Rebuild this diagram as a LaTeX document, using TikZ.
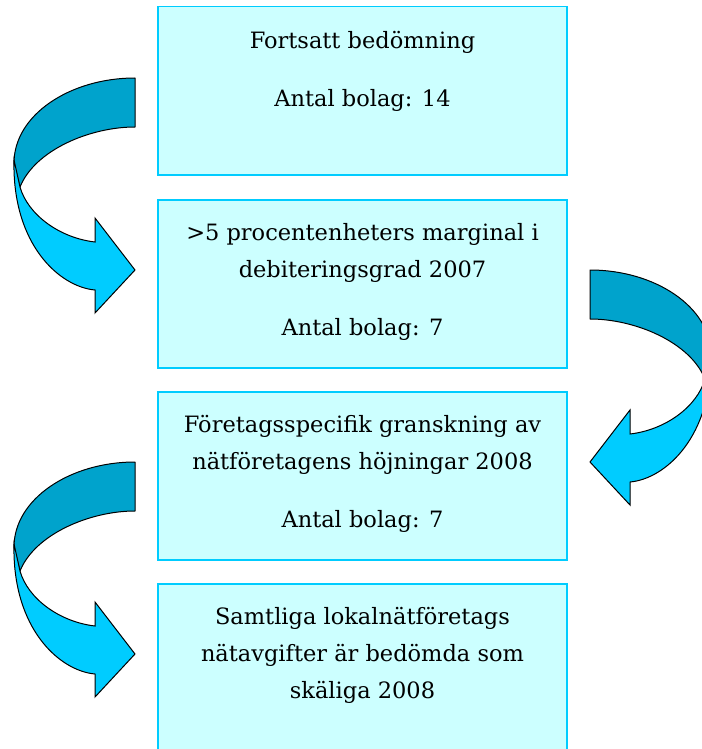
\documentclass[tikz,border=0pt]{standalone}
\usepackage{fontspec}
\setmainfont{DejaVu Serif}
\usepackage{tikz}
\usetikzlibrary{positioning}

\definecolor{stagefill}{HTML}{CCFFFF}
\definecolor{stageline}{HTML}{00CCFF}
\definecolor{bandback}{HTML}{00A3CC}
\definecolor{bandfront}{HTML}{00CCFF}

\tikzset{
  stage/.style={draw=stageline, fill=stagefill, line width=1.5pt,
    minimum width=409pt, minimum height=168pt, anchor=north, inner sep=0pt},
  stagetext/.style={align=center, anchor=north, inner sep=0pt,
    font=\fontsize{22.5}{37}\selectfont},
  backband/.style={draw=black, line width=1pt, fill=bandback, line join=round},
  frontband/.style={draw=black, line width=1pt, fill=bandfront, line join=miter},
  turnarrow/.pic={
    \draw[backband] (135,78) .. controls (70,78) and (14,115) .. (14,163)
      -- (20,187) .. controls (35,150) and (90,127) .. (135,127) -- cycle;
    \draw[frontband] (14,160) .. controls (12,245) and (60,287) .. (95,290)
      -- (95,313) -- (135,270) -- (95,218) -- (95,242)
      .. controls (60,238) and (28,215) .. (20,187) -- cycle;
  }
}

\begin{document}
\begin{tikzpicture}[x=1pt, y=-1pt]
  \useasboundingbox (0,0) rectangle (701,749);

  % the four steps
  \node[stage] (s1) at (362.5,6) {};
  \node[stage] (s2) at (362.5,199) {};
  \node[stage] (s3) at (362.5,391) {};
  \node[stage, minimum height=175pt] (s4) at (362.5,583) {};

  \node[stagetext, below=25pt of s1.north] (t1) {Fortsatt bedömning\\[21pt] Antal bolag: 14};
  \node[stagetext, below=24pt of s2.north] (t2) {>5 procentenheters marginal i\\ debiteringsgrad 2007\\[21pt] Antal bolag: 7};
  \node[stagetext, below=24pt of s3.north] (t3) {Företagsspecifik granskning av\\ nätföretagens höjningar 2008\\[21pt] Antal bolag: 7};
  \node[stagetext, below=24pt of s4.north] (t4) {Samtliga lokalnätföretags\\ nätavgifter är bedömda som\\ skäliga 2008};

  % curved arrows between the steps
  \pic at (0,0) {turnarrow};
  \pic[xscale=-1] at (725,192) {turnarrow};
  \pic at (0,384) {turnarrow};
\end{tikzpicture}
\end{document}
